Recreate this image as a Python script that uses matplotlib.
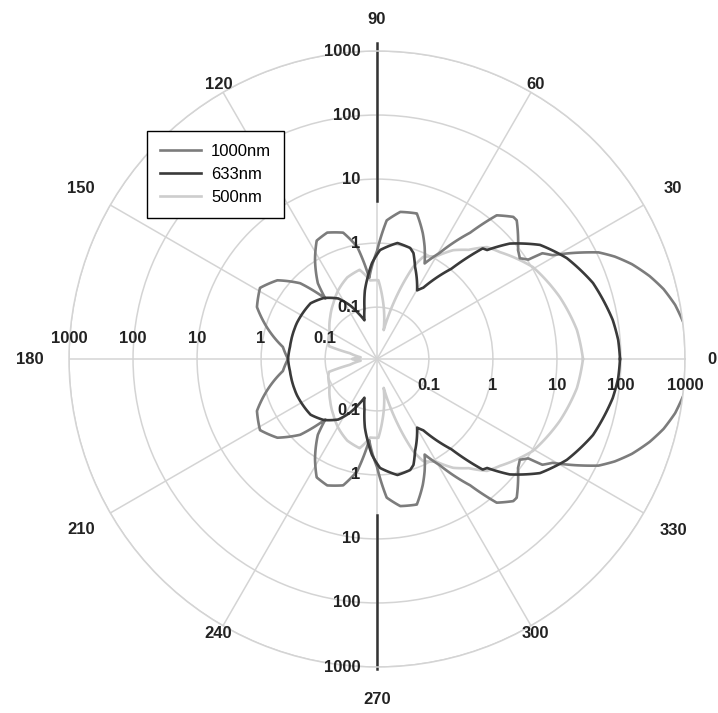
import numpy as np
import matplotlib.pyplot as plt

plt.rcParams['font.family'] = ['Liberation Sans', 'DejaVu Sans']

# scattering angle (deg, 0..180) and intensity; lower half mirrors it
angles_1000 = [0, 3, 6.5, 10.3, 13.7, 16.9, 20.4, 23.3, 25.7, 28.2, 30.6, 32.6, 33.3, 35.2, 37.7,
               44.8, 46.2, 50.2, 53.6, 59.5, 63.5, 67, 70, 74.7, 81, 86, 90, 93, 95.5, 100, 105,
               111.5, 117, 122, 128, 130.5, 135.4, 141.7, 148.7, 156.6, 163.8, 172.7, 180]
vals_1000 = [1240, 1197, 1037, 835, 626, 437, 274, 171, 107, 50, 23.7, 18, 10.4, 8.3, 9.4,
             18.4, 18.4, 12.9, 4.37, 1.29, 0.72, 1.24, 1.91, 3.52, 3.28, 2.29, 0.75, 0.45, 0.29, 0.93, 1.71,
             2.05, 1.84, 1.04, 0.49, 0.27, 0.75, 1.49, 2.13, 1.71, 0.965, 0.47, 0.38]

angles_633 = [0, 4.5, 9.4, 19.4, 28, 35, 41, 44.7, 46.3, 50.5, 57, 59.7, 67.6, 71, 73.4, 80, 88.4,
              93, 97, 100, 104, 108, 112, 116.6, 122.6, 131, 140, 155.8, 172, 180]
vals_633 = [96.5, 93, 83.5, 58.3, 35.2, 19.8, 8.66, 4.07, 3.79, 1.04, 0.33, 0.27, 0.56, 0.87, 1.0, 1.07, 0.78,
            0.49, 0.28, 0.19, 0.1, 0.067, 0.09, 0.133, 0.205, 0.284, 0.35, 0.365, 0.365, 0.38]

angles_500 = [0, 8.3, 18.7, 30.5, 41, 45.5, 50, 55, 60, 65.7, 68.6, 71, 77, 85, 89, 95, 101,
              110, 119.5, 128, 138, 150, 160, 165, 168, 174, 180]
vals_500 = [25.5, 22.1, 16.0, 10.4, 5.42, 4.37, 2.6, 1.84, 1.1, 0.87, 0.54, 0.27, 0.045, 0.143, 0.264,
            0.264, 0.407, 0.352, 0.264, 0.198, 0.149, 0.111, 0.1, 0.093, 0.042, 0.028, 0.038]

radial_ticks = [0.1, 1, 10, 100, 1000]
radial_labels = ['0.1', '1', '10', '100', '1000']
theta_ticks = list(range(0, 360, 30))

R_MIN = 0.0155
R_MAX = 1000
R_PX = 308  # axes radius in pixels


def px2r(px):
    # radius in pixels from the centre -> data value on the log axis
    return R_MIN * 10 ** (px / R_PX * np.log10(R_MAX / R_MIN))


def full_circle(a, v):
    a = np.array(a, dtype=float)
    v = np.array(v, dtype=float)
    th = np.concatenate([a, 360 - a[::-1][1:]])
    r = np.concatenate([v, v[::-1][1:]])
    return np.radians(th), r


fig = plt.figure(figsize=(7.18, 7.13), dpi=100)
ax = fig.add_axes([69 / 718, 46 / 713, 616 / 718, 616 / 713], projection='polar')
ax.set_rscale('log')
ax.set_rlim(R_MIN, R_MAX)
ax.set_rticks(radial_ticks)
ax.set_yticklabels([])
ax.set_thetagrids(theta_ticks, labels=[''] * len(theta_ticks))
ax.yaxis.set_minor_locator(plt.NullLocator())
ax.tick_params(length=0)
ax.grid(True, color='#d4d4d4', lw=1.1)
ax.spines['polar'].set_color('#d4d4d4')
ax.spines['polar'].set_linewidth(1.1)

lines = {}
for name, a, v, col in [('500nm', angles_500, vals_500, '#cdcdcd'),
                        ('1000nm', angles_1000, vals_1000, '#7c7c7c'),
                        ('633nm', angles_633, vals_633, '#3a3a3a')]:
    th, r = full_circle(a, v)
    ln, = ax.plot(th, r, color=col, lw=1.9, label=name, solid_joinstyle='round')
    # draw each segment as a polar curve rather than a straight chord
    ln.get_path()._interpolation_steps = 24
    lines[name] = ln

# dark value-axis segments at 90 and 270
ax.plot([np.pi / 2, np.pi / 2], [px2r(158), px2r(316)], color='#333333', lw=1.8, clip_on=False)
ax.plot([3 * np.pi / 2, 3 * np.pi / 2], [px2r(156), px2r(310)], color='#333333', lw=1.8, clip_on=False)

# angle labels
label_dist = {0: 335, 30: 342, 60: 317, 90: 340, 120: 317, 150: 342,
              180: 347, 210: 342, 240: 317, 270: 340, 300: 317, 330: 342}
for a in theta_ticks:
    ax.text(np.radians(a), px2r(label_dist[a]), str(a), ha='center', va='center',
            fontsize=12, fontweight='bold', color='#222222', clip_on=False)

# value labels along the four axes
for v, s in zip(radial_ticks, radial_labels):
    kw = dict(xycoords='data', textcoords='offset points', fontsize=12,
              fontweight='bold', color='#222222', annotation_clip=False)
    ax.annotate(s, (0, v), xytext=(0, -19), ha='center', va='center', **kw)
    ax.annotate(s, (np.pi, v), xytext=(0, 15), ha='center', va='center', **kw)
    ax.annotate(s, (np.pi / 2, v), xytext=(-12, 0), ha='right', va='center', **kw)
    ax.annotate(s, (3 * np.pi / 2, v), xytext=(-12, 0), ha='right', va='center', **kw)

leg = ax.legend([lines['1000nm'], lines['633nm'], lines['500nm']], ['1000nm', '633nm', '500nm'],
                loc='upper left', bbox_to_anchor=(147 / 718, 1 - 131 / 713),
                bbox_transform=fig.transFigure, frameon=True, fancybox=False,
                edgecolor='black', borderaxespad=0, handlelength=2.5, handletextpad=0.6,
                fontsize=12, framealpha=1, labelspacing=0.5, borderpad=0.75)
leg.get_frame().set_linewidth(1.0)

fig.savefig('out.png', dpi=100)
